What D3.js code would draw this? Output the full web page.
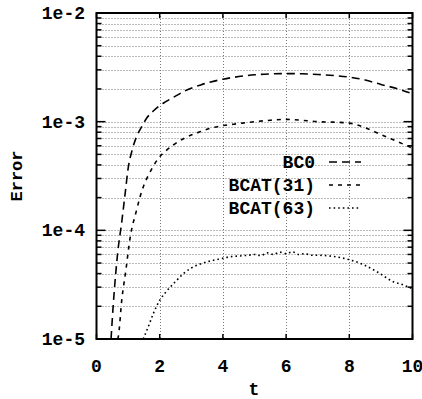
<!DOCTYPE html>
<html><head><meta charset="utf-8">
<script src="https://cdn.jsdelivr.net/npm/d3@7"></script>
<style>body{margin:0;background:#fff}svg{display:block}text{font-family:"Liberation Mono","DejaVu Sans Mono",monospace;font-weight:bold}</style>
</head><body><svg id="c" width="422" height="399"></svg>
<script>
const xTicks = [0,2,4,6,8,10];
const yTicks = [1e-5,1e-4,1e-3,1e-2];
const yTickLabels = ["1e-5","1e-4","1e-3","1e-2"];
const seriesNames = ["BC0","BCAT(31)","BCAT(63)"];
const bc0T = [0.46,0.53,0.67,0.80,0.92,1.0,1.13,1.27,1.43,1.59,1.78,1.96,2.18,2.38,2.8,3.3,4.0,4.5,5.0,5.5,6.0,6.5,7.0,7.5,8.0,8.5,9.0,9.5,10];
const bc0V = [1e-5,2.06e-5,6.2e-5,1.2e-4,2.36e-4,3.7e-4,5.5e-4,7.3e-4,9.0e-4,1.08e-3,1.24e-3,1.38e-3,1.52e-3,1.64e-3,1.92e-3,2.18e-3,2.46e-3,2.6e-3,2.7e-3,2.75e-3,2.77e-3,2.76e-3,2.72e-3,2.66e-3,2.57e-3,2.42e-3,2.2e-3,2.02e-3,1.8e-3];
const bcat31T = [0.67,0.69,0.80,0.93,1.06,1.27,1.38,1.50,1.64,1.80,1.96,2.2,2.43,2.8,3.3,3.6,4.0,4.5,5.0,5.5,6.0,6.5,7.0,7.5,8.0,8.5,9.0,9.5,10];
const bcat31V = [1e-5,1.05e-5,2.29e-5,4.3e-5,8.4e-5,1.54e-4,2.04e-4,2.6e-4,3.2e-4,3.9e-4,4.6e-4,5.4e-4,6.1e-4,7.1e-4,8.1e-4,8.7e-4,9.2e-4,9.6e-4,1.0e-3,1.03e-3,1.05e-3,1.03e-3,1.0e-3,9.9e-4,9.7e-4,8.8e-4,7.6e-4,6.6e-4,5.7e-4];
const bcat63T = [1.48,1.64,1.80,2.01,2.17,2.33,2.55,2.75,3.0,3.38,3.7,3.96,4.2,4.5,4.8,5.0,5.2,5.4,5.6,5.8,6.0,6.2,6.4,6.6,6.8,7.0,7.5,7.97,8.4,8.87,9.39,9.7,10];
const bcat63V = [1e-5,1.3e-5,1.72e-5,2.29e-5,2.65e-5,3.0e-5,3.5e-5,4.0e-5,4.5e-5,5.0e-5,5.3e-5,5.5e-5,5.7e-5,5.8e-5,5.9e-5,6.0e-5,5.85e-5,6.2e-5,6.0e-5,6.3e-5,6.1e-5,6.35e-5,6.0e-5,6.1e-5,5.9e-5,5.9e-5,5.75e-5,5.4e-5,4.9e-5,4.17e-5,3.37e-5,3.15e-5,2.9e-5];

const svg = d3.select("#c");
const L=96.5, R=412.5, T=13, B=339;
const x = d3.scaleLinear().domain([0,10]).range([L,R]);
const y = d3.scaleLog().domain([1e-5,1e-2]).range([B,T]);

// grid
const minor = [];
for (let e=-5;e<-2;e++) for (let m=1;m<10;m++){const v=m*Math.pow(10,e); if(v>1e-5) minor.push(v);}
const g = svg.append("g");
g.selectAll("line.h").data(minor).join("line")
 .attr("x1",L).attr("x2",R).attr("y1",d=>Math.round(y(d))+0.5).attr("y2",d=>Math.round(y(d))+0.5)
 .attr("stroke","#777").attr("stroke-width",1).attr("stroke-dasharray","1,2");
g.selectAll("line.v").data([2,4,6,8]).join("line")
 .attr("y1",T).attr("y2",B).attr("x1",d=>Math.round(x(d))+0.5).attr("x2",d=>Math.round(x(d))+0.5)
 .attr("stroke","#777").attr("stroke-width",1).attr("stroke-dasharray","1,2");

// ticks (inside, mirrored)
const tk = svg.append("g").attr("stroke","#000").attr("stroke-width",1.5);
minor.concat([1e-5,1e-2]).forEach(v=>{
  const major = Math.abs(Math.log10(v)-Math.round(Math.log10(v)))<1e-9;
  const len = major?9:5, yy=y(v);
  tk.append("line").attr("x1",L).attr("x2",L+len).attr("y1",yy).attr("y2",yy);
  tk.append("line").attr("x1",R).attr("x2",R-len).attr("y1",yy).attr("y2",yy);
});
xTicks.forEach(t=>{
  tk.append("line").attr("x1",x(t)).attr("x2",x(t)).attr("y1",B).attr("y2",B-5);
  tk.append("line").attr("x1",x(t)).attr("x2",x(t)).attr("y1",T).attr("y2",T+5);
});

// curves
const line = d3.line().x(d=>x(d[0])).y(d=>y(d[1])).curve(d3.curveMonotoneX);
const styles = [{dash:"8,5"},{dash:"4,5"},{dash:"1.6,3"}];
const series = [d3.zip(bc0T,bc0V), d3.zip(bcat31T,bcat31V), d3.zip(bcat63T,bcat63V)];
svg.append("clipPath").attr("id","clp").append("rect").attr("x",L).attr("y",T).attr("width",R-L).attr("height",B-T);
series.forEach((s,i)=>{
  svg.append("path").datum(s).attr("d",line).attr("fill","none").attr("stroke","#000")
   .attr("stroke-width",1.6).attr("stroke-dasharray",styles[i].dash).attr("clip-path","url(#clp)");
});

// frame
svg.append("rect").attr("x",L).attr("y",T).attr("width",R-L).attr("height",B-T)
 .attr("fill","none").attr("stroke","#000").attr("stroke-width",2);

// tick labels
svg.selectAll("text.xl").data(xTicks).join("text").attr("x",d=>x(d)).attr("y",372)
 .attr("text-anchor","middle").attr("font-size",18).text(d=>d);
svg.selectAll("text.yl").data(yTicks).join("text").attr("x",85).attr("y",d=>y(d)+6)
 .attr("text-anchor","end").attr("font-size",18).text((d,i)=>yTickLabels[i]);

// axis titles
svg.append("text").attr("x",254).attr("y",395).attr("text-anchor","middle").attr("font-size",18).text("t");
svg.append("text").attr("transform","translate(22,176) rotate(-90)").attr("text-anchor","middle").attr("font-size",17).text("Error");

// legend
const legY=[162,185,208];
seriesNames.forEach((n,i)=>{
  svg.append("text").attr("x",315).attr("y",legY[i]+6).attr("text-anchor","end").attr("font-size",18).text(n);
  svg.append("line").attr("x1",329).attr("x2",361).attr("y1",legY[i]).attr("y2",legY[i])
   .attr("stroke","#000").attr("stroke-width",1.6).attr("stroke-dasharray",styles[i].dash);
});
</script></body></html>
